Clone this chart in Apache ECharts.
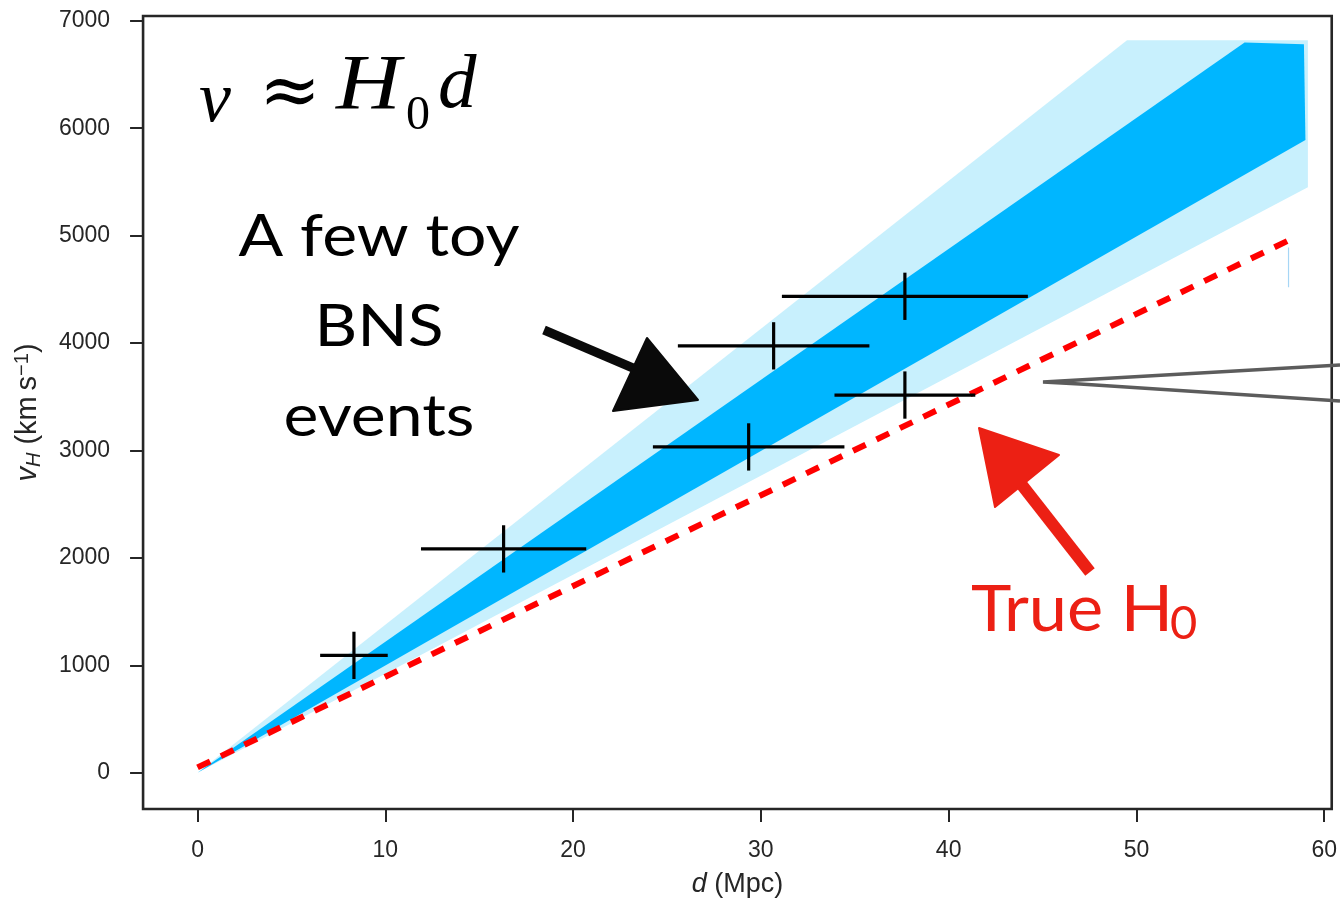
<!DOCTYPE html>
<html>
<head>
<meta charset="utf-8">
<script src="https://cdn.jsdelivr.net/npm/echarts@6/dist/echarts.min.js"></script>
<style>
  html, body { margin: 0; padding: 0; background: #fff; }
  #chart { width: 1340px; height: 903px; }
</style>
</head>
<body>
<div id="chart"></div>
<script>
// Toy binary-neutron-star events: distance (Mpc) vs Hubble velocity (km/s)
const eventD    = [8.33, 16.30, 29.35, 30.68, 37.67, 37.67];
const eventV    = [1093, 2084, 3033, 3974, 4435, 3516];
const eventDErr = [1.8, 4.4, 5.1, 5.1, 6.55, 3.75];
const eventVErr = [220, 220, 220, 220, 220, 220];

// Credible bands of the inferred relation, polygon vertices (d, v)
const outerBandD = [0, 49.5, 59.13, 59.13];
const outerBandV = [0, 6819, 6819, 5450];
const innerBandD = [0, 55.76, 58.92, 59.0];
const innerBandV = [0, 6797, 6782, 5890];

// True Hubble relation (end points)
const trueLineD = [0, 58.1];
const trueLineV = [50, 4955];

// Thin leftover stroke at the end of the true relation
const stubD = [58.1, 58.1];
const stubV = [4890, 4519];

// Axis ticks
const xTicks = [0, 10, 20, 30, 40, 50, 60];
const yTicks = [0, 1000, 2000, 3000, 4000, 5000, 6000, 7000];

const AXIS_COLOR = '#262626';
const RED = '#ec2014';
const TICK_FONT = 'Liberation Sans';

function bandSeries(ds, vs, color, z) {
  return {
    type: 'custom',
    z: z,
    silent: true,
    data: [[ds[0], vs[0]]],
    renderItem: function (params, api) {
      const pts = ds.map(function (d, i) { return api.coord([d, vs[i]]); });
      return { type: 'polygon', shape: { points: pts }, style: { fill: color } };
    }
  };
}

function plain(v) { return String(v); }

const chart = echarts.init(document.getElementById('chart'));

const option = {
  backgroundColor: '#ffffff',
  animation: false,
  grid: {
    left: 143, right: 6, top: 16, bottom: 93,
    show: true, borderColor: AXIS_COLOR, borderWidth: 2.6,
    backgroundColor: 'transparent'
  },
  xAxis: {
    type: 'value', min: -2.9, max: 60.4,
    axisLine: { show: false, onZero: false },
    splitLine: { show: false },
    axisTick: { show: true, length: 13, customValues: xTicks, lineStyle: { color: AXIS_COLOR, width: 2 } },
    axisLabel: { customValues: xTicks, formatter: plain, margin: 30, fontSize: 23, color: AXIS_COLOR, fontFamily: TICK_FONT },
    name: '{i|d}{n| (Mpc)}',
    nameLocation: 'middle',
    nameGap: 62,
    nameTextStyle: {
      color: AXIS_COLOR,
      rich: {
        i: { fontSize: 27, fontStyle: 'italic', fontFamily: TICK_FONT, color: AXIS_COLOR },
        n: { fontSize: 27, fontFamily: TICK_FONT, color: AXIS_COLOR }
      }
    }
  },
  yAxis: {
    type: 'value', min: -337, max: 7044,
    axisLine: { show: false, onZero: false },
    splitLine: { show: false },
    axisTick: { show: true, length: 13, customValues: yTicks, lineStyle: { color: AXIS_COLOR, width: 2 } },
    axisLabel: { customValues: yTicks, formatter: plain, margin: 33, fontSize: 23, color: AXIS_COLOR, fontFamily: TICK_FONT },
    name: '{i|v}{sub|H}{n| (km\u2009s}{sup|\u22121}{n|)}',
    nameLocation: 'middle',
    nameRotate: 90,
    nameGap: 88,
    nameTextStyle: {
      color: AXIS_COLOR,
      rich: {
        i: { fontSize: 29, fontStyle: 'italic', fontFamily: TICK_FONT, color: AXIS_COLOR, lineHeight: 40, verticalAlign: 'middle' },
        n: { fontSize: 29, fontFamily: TICK_FONT, color: AXIS_COLOR, lineHeight: 40, verticalAlign: 'middle' },
        sub: { fontSize: 20, fontStyle: 'italic', fontFamily: TICK_FONT, color: AXIS_COLOR, verticalAlign: 'bottom', lineHeight: 20, padding: [0, 0, 4, 0] },
        sup: { fontSize: 20, fontFamily: TICK_FONT, color: AXIS_COLOR, verticalAlign: 'top', lineHeight: 20, padding: [4, 0, 0, 0] }
      }
    }
  },
  series: [
    bandSeries(outerBandD, outerBandV, '#c8f0fd', 1),
    bandSeries(innerBandD, innerBandV, '#00b6ff', 2),
    {
      type: 'line', z: 3, silent: true, showSymbol: false,
      data: stubD.map(function (d, i) { return [d, stubV[i]]; }),
      lineStyle: { color: '#a6d6f5', width: 1.2 }
    },
    {
      type: 'line', z: 4, silent: true, showSymbol: false,
      data: trueLineD.map(function (d, i) { return [d, trueLineV[i]]; }),
      lineStyle: { color: '#ff0000', width: 6, type: [14, 12], cap: 'butt' }
    },
    {
      type: 'custom', z: 5, silent: true,
      data: eventD.map(function (d, i) { return [d, eventV[i], eventDErr[i], eventVErr[i]]; }),
      renderItem: function (params, api) {
        const d = api.value(0), v = api.value(1), dx = api.value(2), dv = api.value(3);
        const l = api.coord([d - dx, v]), r = api.coord([d + dx, v]);
        const t = api.coord([d, v + dv]), b = api.coord([d, v - dv]);
        const st = { stroke: '#000000', lineWidth: 3.2 };
        return {
          type: 'group',
          children: [
            { type: 'line', shape: { x1: l[0], y1: l[1], x2: r[0], y2: r[1] }, style: st },
            { type: 'line', shape: { x1: t[0], y1: t[1], x2: b[0], y2: b[1] }, style: st }
          ]
        };
      }
    }
  ],
  graphic: [
    // v ≈ H0 d
    { type: 'text', x: 199, y: 66, style: { text: 'v', font: 'italic 72px "Liberation Serif"', fill: '#000' }, z: 10 },
    { type: 'text', x: 259, y: 59, style: { text: '\u2248', font: '74px "DejaVu Serif"', fill: '#000' }, z: 10 },
    { type: 'text', x: 336, y: 48, scaleX: 1.15, style: { text: 'H', font: 'italic 78px "Liberation Serif"', fill: '#000' }, z: 10 },
    { type: 'text', x: 406, y: 92, style: { text: '0', font: '48px "Liberation Serif"', fill: '#000' }, z: 10 },
    { type: 'text', x: 438, y: 48, style: { text: 'd', font: 'italic 77px "Liberation Serif"', fill: '#000' }, z: 10 },

    // "A few toy BNS events"
    { type: 'text', x: 379, y: 207, scaleX: 1.12, style: { text: 'A few toy', font: '59px Lato', fill: '#000', align: 'center' }, z: 10 },
    { type: 'text', x: 379, y: 297, scaleX: 1.12, style: { text: 'BNS', font: '59px Lato', fill: '#000', align: 'center' }, z: 10 },
    { type: 'text', x: 379, y: 387, scaleX: 1.12, style: { text: 'events', font: '59px Lato', fill: '#000', align: 'center' }, z: 10 },

    // black hand-drawn arrow
    { type: 'polyline', z: 9, shape: { points: [[544, 330], [640, 371]] }, style: { stroke: '#0a0a0a', lineWidth: 9, lineCap: 'butt' } },
    { type: 'polygon', z: 9, shape: { points: [[647, 338], [613, 411], [698, 400]] }, style: { fill: '#0a0a0a', stroke: '#0a0a0a', lineWidth: 2, lineJoin: 'round' } },

    // red hand-drawn arrow + label
    { type: 'polyline', z: 9, shape: { points: [[1018, 480], [1090, 572]] }, style: { stroke: RED, lineWidth: 12, lineCap: 'butt' } },
    { type: 'polygon', z: 9, shape: { points: [[979, 428], [1059, 455], [995, 507]] }, style: { fill: RED, stroke: RED, lineWidth: 2, lineJoin: 'round' } },
    { type: 'text', x: 971, y: 578, scaleX: 1.07, style: { text: 'True H', font: '64px Lato', fill: RED }, z: 10 },
    { type: 'text', x: 1170, y: 600, style: { text: '0', font: '47px Lato', fill: RED }, z: 10 },

    // grey pointer leaving the frame
    { type: 'polyline', z: 9, shape: { points: [[1340, 365], [1043, 382], [1080, 384], [1340, 401]] }, style: { stroke: '#5c5c5c', lineWidth: 3.5, lineJoin: 'miter' } }
  ]
};

chart.setOption(option);
</script>
</body>
</html>
